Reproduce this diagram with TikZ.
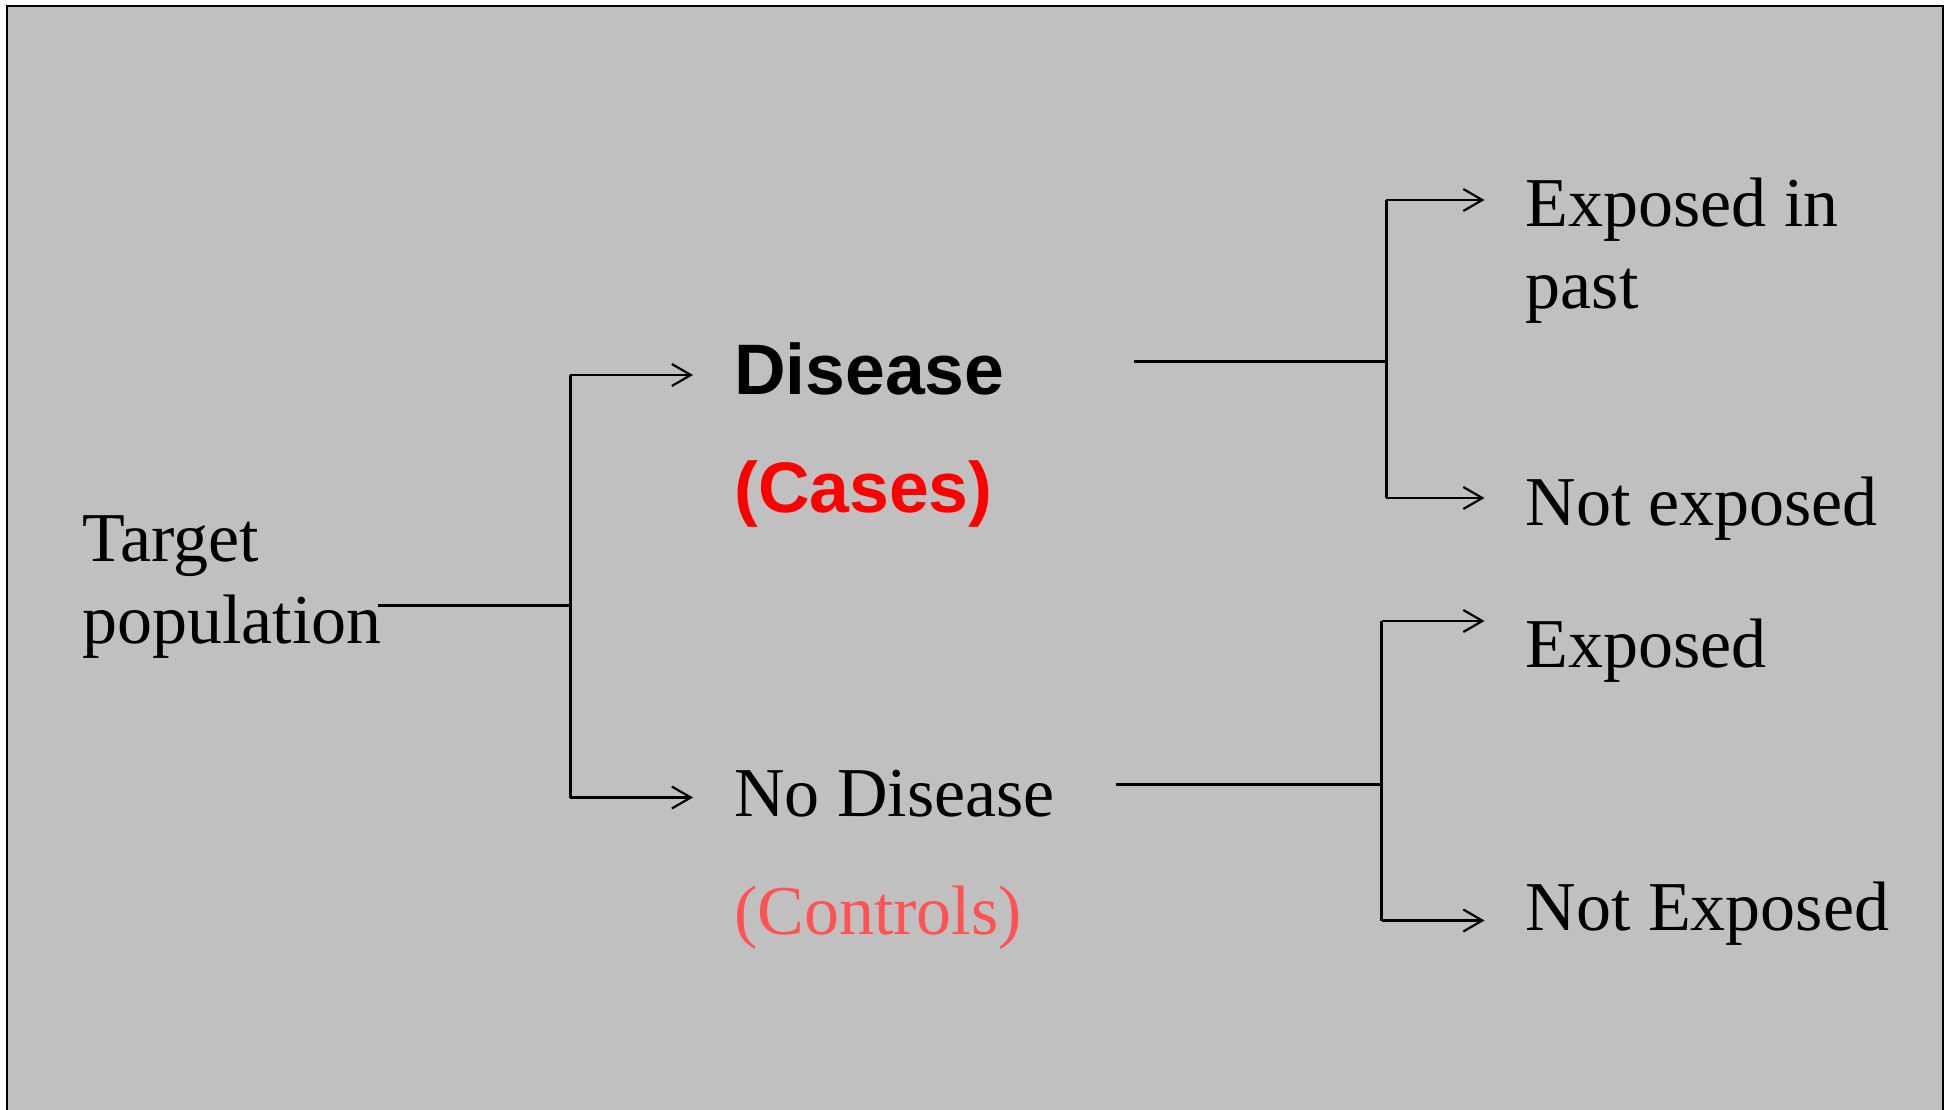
\documentclass[tikz,border=0pt]{standalone}
\usepackage{fontspec}
\setmainfont{Liberation Serif}
\setsansfont{Liberation Sans}
\usetikzlibrary{arrows.meta}
\definecolor{panelgray}{RGB}{192,192,192}
\definecolor{casered}{RGB}{255,0,0}
\definecolor{controlred}{RGB}{255,82,82}
\begin{document}
\begin{tikzpicture}[x=1pt,y=-1pt,
  lbl/.style={anchor=base west, inner sep=0pt, align=left,
    font=\fontsize{70}{82}\selectfont},
  boldlbl/.style={anchor=base west, inner sep=0pt,
    font=\fontsize{71.5}{82}\selectfont\sffamily\bfseries},
  trunk/.style={line width=3pt},
  branch/.style={line width=2.2pt,
    -{Straight Barb[length=19pt,width=22pt,line width=2.2pt]}}]
\useasboundingbox (0,0) rectangle (1948,1110);
% panel
\fill[white] (0,0) rectangle (1948,1110);
\fill[panelgray] (7,6) rectangle (1943,1110);
\draw[line width=2pt] (7,1110) -- (7,6) -- (1943,6) -- (1943,1110);

% labels (multi-line labels are placed by their last baseline)
\node[lbl] (target) at (82,643.5) {Target\\population};
\node[boldlbl] (disease) at (734,394) {Disease};
\node[boldlbl, text=casered] (cases) at (734,512) {(Cases)};
\node[lbl] (nodisease) at (734,816) {No Disease};
\node[lbl, text=controlred] (controls) at (734,934) {(Controls)};
\node[lbl] (exppast) at (1525.5,308) {Exposed in\\past};
\node[lbl] (notexp) at (1525.5,525.5) {Not exposed};
\node[lbl] (exp) at (1525.5,667) {Exposed};
\node[lbl] (notExp) at (1525.5,930.5) {Not Exposed};

% first split: target population
\coordinate (t0) at (378,605);
\coordinate (j1) at (570,605);
\coordinate (j1top) at (570,375);
\coordinate (j1bot) at (570,797.5);
\coordinate (a1top) at (693,375);
\coordinate (a1bot) at (693,797.5);
\draw[trunk] (t0) -- (j1);
\draw[trunk] (j1top) -- (j1bot);
\draw[branch] (j1top) -- (a1top);
\draw[branch] (j1bot) -- (a1bot);

% second split: cases
\coordinate (d0) at (1134,361.5);
\coordinate (j2) at (1386,361.5);
\coordinate (j2top) at (1386,200);
\coordinate (j2bot) at (1386,498);
\coordinate (a2top) at (1484.5,200);
\coordinate (a2bot) at (1484.5,498);
\draw[trunk] (d0) -- (j2);
\draw[trunk] (j2top) -- (j2bot);
\draw[branch] (j2top) -- (a2top);
\draw[branch] (j2bot) -- (a2bot);

% third split: controls
\coordinate (n0) at (1115.6,784);
\coordinate (j3) at (1381.5,784);
\coordinate (j3top) at (1381.5,621);
\coordinate (j3bot) at (1381.5,920.5);
\coordinate (a3top) at (1484.5,621);
\coordinate (a3bot) at (1484.5,920.5);
\draw[trunk] (n0) -- (j3);
\draw[trunk] (j3top) -- (j3bot);
\draw[branch] (j3top) -- (a3top);
\draw[branch] (j3bot) -- (a3bot);
\end{tikzpicture}
\end{document}
